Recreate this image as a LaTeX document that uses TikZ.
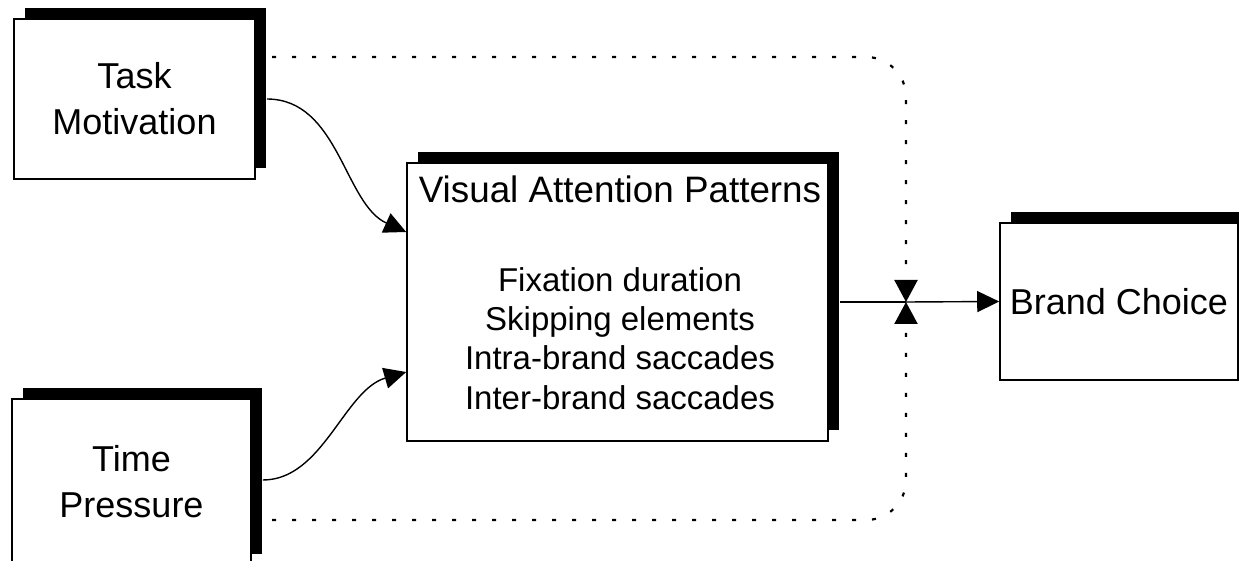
\documentclass[tikz,border=0pt]{standalone}
\usepackage{fontspec}
\setmainfont{Liberation Sans}
\usetikzlibrary{arrows.meta,shadows,calc}
\begin{document}
\begin{tikzpicture}[x=1pt,y=1pt,
  box/.style={draw=black, fill=white, line width=1.6pt, inner sep=0pt,
    general shadow={shadow xshift=11pt, shadow yshift=11pt, fill=black}},
  bigtext/.style={font=\fontsize{36}{46}\selectfont, align=center},
  bodytext/.style={font=\fontsize{33}{39}\selectfont},
  conn/.style={line width=1.4pt, -{Triangle[length=22pt,width=21pt]}},
  dotconn/.style={line width=2.2pt, dash pattern=on 4pt off 16pt, rounded corners=40pt,
    -{Triangle[length=22pt,width=23pt]}}
]
\useasboundingbox (0,0) rectangle (1239,560);
% boxes
\node[box, minimum width=241pt, minimum height=160pt, bigtext] (tm) at (134.5,461) {Task\\Motivation};
\node[box, minimum width=239pt, minimum height=166pt, bigtext] (tp) at (131.5,78) {Time\\Pressure};
\node[box, minimum width=421pt, minimum height=278pt] (vap) at (617.5,258) {};
\node[box, minimum width=238pt, minimum height=157pt, font=\fontsize{36}{46}\selectfont] (bc) at (1119,258.5) {Brand Choice};
% texts in the central box
\node[anchor=base, font=\fontsize{36.8}{44}\selectfont] (t0) at (620,357) {Visual Attention Patterns};
\node[anchor=base, bodytext] (t1) at (620,268) {Fixation duration};
\node[anchor=base, bodytext] (t2) at (620,229) {Skipping elements};
\node[anchor=base, bodytext] (t3) at (620,190) {Intra-brand saccades};
\node[anchor=base, bodytext] (t4) at (620,151) {Inter-brand saccades};
% solid connectors
\draw[conn] ([xshift=11pt]tm.east) .. controls +(72,0) and +(-62,28) .. ([yshift=70pt]vap.west);
\draw[conn] ([xshift=11pt,yshift=2pt]tp.east) .. controls +(60,0) and +(-62,-18) .. ([yshift=-70pt]vap.west);
\coordinate (meet) at (906,258);
\draw[line width=1.4pt] ([xshift=11pt]vap.east) -- (meet);
\draw[conn] (meet) -- (bc.west);
% dotted connectors
\coordinate (d1) at (272,503);
\coordinate (d2) at (272,40);
\draw[dotconn] (d1) -| (meet);
\draw[dotconn] (d2) -| (meet);
\end{tikzpicture}
\end{document}
